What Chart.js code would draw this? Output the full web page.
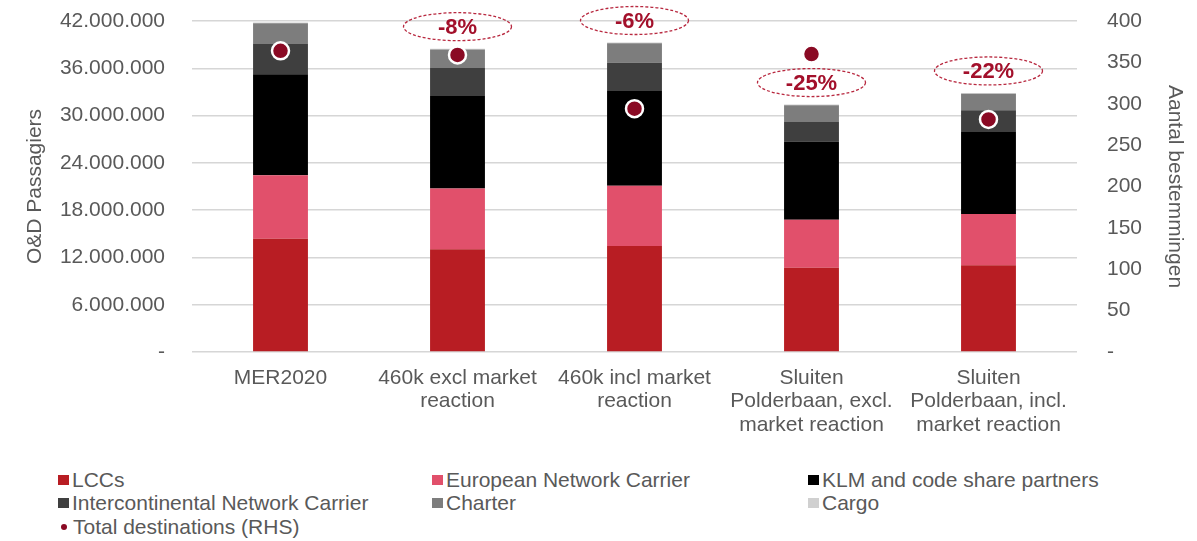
<!DOCTYPE html>
<html>
<head>
<meta charset="utf-8">
<script src="https://cdn.jsdelivr.net/npm/chart.js@4.4.1/dist/chart.umd.min.js"></script>
<style>
    html, body { margin: 0; padding: 0; background: #fff; }
    body { width: 1197px; height: 541px; position: relative; overflow: hidden; font-family: "Liberation Sans", Arial, sans-serif; }
    #wrap { position: absolute; left: 0; top: 0; width: 1197px; height: 455px; }
    #legend { position: absolute; left: 58px; top: 468px; display: grid; grid-template-columns: 374px 376px 320px; font-size: 21px; color: #595959; }
    #legend div { display: flex; align-items: center; height: 23.5px; white-space: nowrap; }
    #legend span.box { display: inline-block; width: 11px; height: 10px; margin-right: 3px; }
    #legend span.dot { display: inline-block; width: 6px; height: 6px; border-radius: 50%; margin: 0 6px 0 3px; }
</style>
</head>
<body>
<div id="wrap"><canvas id="chart"></canvas></div>
<div id="legend"></div>
<script>
const categories = [
    ['MER2020'],
    ['460k excl market', 'reaction'],
    ['460k incl market', 'reaction'],
    ['Sluiten', 'Polderbaan, excl.', 'market reaction'],
    ['Sluiten', 'Polderbaan, incl.', 'market reaction']
];
// passengers, millions
const lccs      = [14.36, 13.04, 13.46, 10.70, 11.00];
const european  = [ 8.06,  7.72,  7.65,  6.08,  6.50];
const klm       = [12.83, 11.72, 12.02,  9.92, 10.40];
const interc    = [ 3.91,  3.57,  3.57,  2.47,  2.76];
const charter   = [ 2.54,  2.34,  2.47,  2.13,  2.11];
const cargo     = [ 0.10,  0.10,  0.10,  0.10,  0.10];
const destinations = [364, 359, 294, 360, 281];
const changeLabels = [null, '-8%', '-6%', '-25%', '-22%'];

const M = 1000000;
const mil = arr => arr.map(v => v * M);
const fmt = v => v === 0 ? '-' : v.toLocaleString('de-DE');

const FONT = { size: 21, family: '"Liberation Sans", Arial, sans-serif', lineHeight: 1.1 };
const GREY = '#595959';

const ellipsePlugin = {
    id: 'ellipses',
    afterDatasetsDraw(chart) {
        const ctx = chart.ctx;
        const x = chart.scales.x, y = chart.scales.y;
        ctx.save();
        changeLabels.forEach((lab, i) => {
            if (!lab) return;
            const total = (lccs[i] + european[i] + klm[i] + interc[i] + charter[i] + cargo[i]) * M;
            const cx = x.getPixelForValue(i);
            const cy = y.getPixelForValue(total) - 22;
            ctx.beginPath();
            ctx.ellipse(cx, cy, 54, 14, 0, 0, Math.PI * 2);
            ctx.setLineDash([3, 2]);
            ctx.lineWidth = 1.3;
            ctx.strokeStyle = '#b8283f';
            ctx.stroke();
            ctx.setLineDash([]);
            ctx.fillStyle = '#a3102b';
            ctx.font = 'bold 22px "Liberation Sans", Arial, sans-serif';
            ctx.textAlign = 'center';
            ctx.textBaseline = 'middle';
            ctx.fillText(lab, cx, cy + 1);
        });
        ctx.restore();
    }
};

const barOpts = { stack: 's', barPercentage: 0.31, categoryPercentage: 1, borderWidth: 0, order: 2 };

const chart = new Chart(document.getElementById('chart'), {
    type: 'bar',
    data: {
        labels: categories,
        datasets: [
            { type: 'line', label: 'Total destinations (RHS)', data: destinations, yAxisID: 'y1',
              showLine: false, pointRadius: 8.5, pointHoverRadius: 8.5, pointBackgroundColor: '#8a0a24',
              pointBorderColor: '#fff', pointBorderWidth: 2.5, backgroundColor: '#8a0a24', order: 0 },
            { label: 'LCCs', data: mil(lccs), backgroundColor: '#b81d23', ...barOpts },
            { label: 'European Network Carrier', data: mil(european), backgroundColor: '#e1506b', ...barOpts },
            { label: 'KLM and code share partners', data: mil(klm), backgroundColor: '#000000', ...barOpts },
            { label: 'Intercontinental Network Carrier', data: mil(interc), backgroundColor: '#3f3f3f', ...barOpts },
            { label: 'Charter', data: mil(charter), backgroundColor: '#7d7d7d', ...barOpts },
            { label: 'Cargo', data: mil(cargo), backgroundColor: '#d0d0d0', ...barOpts }
        ]
    },
    options: {
        responsive: true,
        maintainAspectRatio: false,
        animation: false,
        layout: { padding: { top: 21, left: 0, right: 0, bottom: 0 } },
        plugins: { legend: { display: false }, tooltip: { enabled: false } },
        scales: {
            x: {
                stacked: true,
                grid: { display: false, drawTicks: false },
                border: { display: false },
                ticks: { color: GREY, font: FONT, maxRotation: 0, autoSkip: false, padding: 15 },
                afterFit: s => { s.height = 103; s.paddingLeft = 0; s.paddingRight = 0; }
            },
            y: {
                stacked: true, min: 0, max: 42 * M,
                ticks: { stepSize: 6 * M, callback: fmt, color: GREY, font: FONT, padding: 27 },
                grid: { color: '#d6d6d6', lineWidth: 1.5, drawTicks: false },
                border: { display: false },
                title: { display: true, text: 'O&D Passagiers', color: GREY, font: FONT, padding: { top: 24, bottom: 0 } },
                afterFit: s => { s.width = 192; s.paddingTop = 0; s.paddingBottom = 0; }
            },
            y1: {
                position: 'right', min: 0, max: 400,
                ticks: { stepSize: 50, callback: v => v === 0 ? '-' : v, color: GREY, font: FONT, padding: 30 },
                grid: { display: false, drawTicks: false },
                border: { display: false },
                title: { display: true, text: 'Aantal bestemmingen', color: GREY, font: FONT, padding: { top: 11, bottom: 0 } },
                afterFit: s => { s.width = 120; s.paddingTop = 0; s.paddingBottom = 0; }
            }
        }
    },
    plugins: [ellipsePlugin]
});

// legend in three columns, ordered as in the source
const legendOrder = [1, 2, 3, 4, 5, 6, 0];
const legend = document.getElementById('legend');
legendOrder.forEach(i => {
    const ds = chart.data.datasets[i];
    const d = document.createElement('div');
    const mark = ds.type === 'line'
        ? `<span class="dot" style="background:${ds.backgroundColor}"></span>`
        : `<span class="box" style="background:${ds.backgroundColor}"></span>`;
    d.innerHTML = mark + ds.label;
    legend.appendChild(d);
});
</script>
</body>
</html>
